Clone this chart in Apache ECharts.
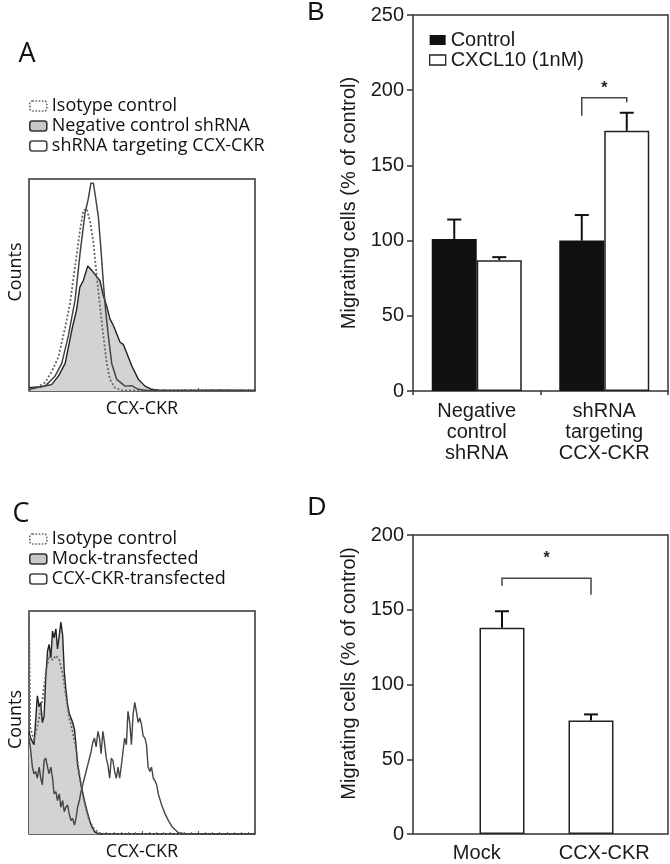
<!DOCTYPE html>
<html><head><meta charset="utf-8">
<script src="https://cdn.jsdelivr.net/npm/echarts@6/dist/echarts.min.js"></script>
<style>html,body{margin:0;padding:0;background:#fff}#c{width:670px;height:864px}</style>
</head><body><div id="c"></div>
<script>
// ---------- Panel A: flow histograms [channel (0-100 across plot), counts (% of max)] ----------
const histA_negative = [[0,1.5],[5,2],[10,3],[13,7],[16,13],[19,29],[21,38],[22.5,49],[24,52],[26,59],[27.7,57],[29.2,55],[31.4,52],[32.9,45],[34.4,40],[35.8,34],[37.3,31],[38.8,27],[40.3,23],[41.7,22],[43.2,18],[45.4,12],[48.4,5.5],[51.3,2.3],[54.3,0.8],[57.2,0.4],[70,0.3],[85,0.4],[100,0.3]];
const histA_isotype = [[0,0.5],[1.2,1],[4,2],[7.1,4],[10,9],[13,16],[16,30],[18.1,41],[20.4,59],[22.6,76],[24,85],[25.5,86],[27,80],[28.5,70],[29.9,55],[31.4,40],[32.9,26],[34.4,13],[35.8,5.5],[38,1.5],[41,0.3],[100,0.2]];
const histA_targeting = [[0,0.5],[1.2,1],[7.1,2.3],[11.5,7],[14.5,13],[17.4,26],[20.4,43],[22.6,65],[24.8,84],[26.3,91],[27.4,98],[28.5,98],[29.5,91],[30.7,82],[31.9,66],[32.9,51],[33.9,38],[35.1,26],[36.6,13],[38.8,5.5],[42.5,2.3],[45.4,2.5],[48.4,0.8],[51.3,0.3],[100,0.2]];

// ---------- Panel C: flow histograms ----------
const histC_mock = [[0,46],[0.7,43],[2.2,40],[3.7,62],[4.5,57],[5.2,59],[5.9,50],[6.7,53],[7.4,70],[8.2,82],[8.9,85],[9.7,79],[10.4,91],[11.1,88],[11.9,92],[12.6,83],[13.4,89],[14.1,95],[14.9,89],[15.6,73],[16.3,65],[17.1,58],[17.8,54],[18.6,52],[19.3,50],[20.1,47],[20.8,40],[21.5,31],[23,22],[24.5,15],[26,9],[27.5,4],[29,1],[30.5,0.3],[32,0],[100,0]];
const histC_isotype = [[0,100],[0.5,48],[2.2,42],[4.5,52],[5.9,60],[7.4,72],[8.9,80],[10.4,78],[11.9,80],[13.4,78],[14.9,72],[16.3,62],[17.8,52],[19.3,46],[20.8,38],[22.3,27],[23.8,18],[25.3,11],[26.7,6],[29,2],[31.2,0.5],[33.4,0],[100,0]];
const histC_ckr = [[0,43],[0.7,38],[1.5,30],[2.2,27],[3,28],[3.7,25],[4.5,30],[5.2,25],[5.9,22],[6.7,33],[7.4,34],[8.2,30],[8.9,27],[9.7,30],[10.4,25],[11.1,18],[11.9,19],[12.6,15],[13.4,18],[14.1,12],[14.9,15],[15.6,10],[16.3,12],[17.1,13],[17.8,9],[18.6,6],[19.3,7],[20.1,4],[20.8,7],[21.5,12],[22.3,15],[23,19],[23.8,22],[24.5,25],[26,31],[27.5,37],[28.2,41],[29,43],[29.7,39],[30.5,46],[31.2,43],[31.9,36],[32.7,46],[33.4,41],[34.2,34],[34.9,31],[35.7,25],[36.4,34],[37.1,33],[37.9,28],[38.6,25],[39.4,30],[40.1,25],[40.9,31],[41.6,37],[42.3,43],[43.1,40],[43.8,55],[44.6,50],[45.3,40],[46.1,54],[46.8,59],[47.5,55],[48.3,50],[49,52],[49.8,49],[50.5,44],[51.3,43],[52,40],[52.7,30],[53.5,28],[54.2,30],[55,25],[55.7,24],[56.5,22],[57.2,18],[58.7,13],[60.2,9],[61.7,6],[63.2,3.4],[64.6,2],[66.1,0.6],[69.1,0.1],[100,0]];

// ---------- Panel B: migration bars ----------
const bCategories = ['Negative\ncontrol\nshRNA', 'shRNA\ntargeting\nCCX-CKR'];
const bControl = [101, 100];
const bControlErr = [13, 17];
const bCxcl10 = [87, 173];
const bCxcl10Err = [2, 12];
const bBracket = [[1, 1, 183, 195, 192, 201]]; // catL, catR, left leg end, top, right leg end, star
const bYMax = 250, bYStep = 50;

// ---------- Panel D: migration bars ----------
const dCategories = ['Mock', 'CCX-CKR'];
const dValues = [138, 76];
const dErr = [11, 4];
const dBracket = [[0, 1, 166, 171, 160, 184]];
const dYMax = 200, dYStep = 50;

// ---------- styling ----------
const FA = '"Open Sans", "DejaVu Sans", sans-serif';
const FB = '"Liberation Sans", Arial, sans-serif';
const BORDER = '#333';
const BAR_W = 45;
const CAP = 7;

function errRender(offset) {
  return function (params, api) {
    const x = api.value(0), v = api.value(1), e = api.value(2);
    const b = api.coord([x, v]);
    const t = api.coord([x, v + e]);
    const cx = b[0] + offset;
    return { type: 'group', children: [
      { type: 'line', shape: { x1: cx, y1: b[1], x2: cx, y2: t[1] }, style: { stroke: '#111', lineWidth: 2 } },
      { type: 'line', shape: { x1: cx - CAP, y1: t[1], x2: cx + CAP, y2: t[1] }, style: { stroke: '#111', lineWidth: 2 } }
    ]};
  };
}
function bracketRender(offL, offR) {
  return function (params, api) {
    const cL = api.value(0), cR = api.value(1);
    const p1 = api.coord([cL, api.value(2)]);
    const p2 = api.coord([cL, api.value(3)]);
    const p3 = api.coord([cR, api.value(3)]);
    const p4 = api.coord([cR, api.value(4)]);
    const ps = api.coord([cL, api.value(5)]);
    const xl = p1[0] + offL, xr = p3[0] + offR;
    return { type: 'group', children: [
      { type: 'polyline', shape: { points: [[xl, p1[1]], [xl, p2[1]], [xr, p3[1]], [xr, p4[1]]] },
        style: { stroke: '#444', lineWidth: 1.5, fill: null } },
      { type: 'text', x: (xl + xr) / 2, y: ps[1],
        style: { text: '*', fill: '#222', font: 'bold 16px ' + FB, align: 'center', verticalAlign: 'middle', textAlign: 'center', textVerticalAlign: 'middle' } }
    ]};
  };
}

const histX = (gi, name) => ({
  type: 'value', gridIndex: gi, min: 0, max: 100, interval: 25,
  name: name, nameLocation: 'middle', nameGap: 9,
  nameTextStyle: { fontFamily: FA, fontSize: 18, color: '#111' },
  axisLine: { show: false }, axisLabel: { show: false }, splitLine: { show: false },
  axisTick: { show: true, inside: true, length: 3, lineStyle: { color: '#555' } },
  minorTick: { show: true, splitNumber: 8, length: 2, lineStyle: { color: '#777' } }
});
const histY = (gi, pad) => ({
  type: 'value', gridIndex: gi, min: 0, max: 100,
  name: 'Counts', nameLocation: 'middle', nameGap: 4,
  nameTextStyle: { fontFamily: FA, fontSize: 18, color: '#111', padding: [0, 0, 0, pad] },
  axisLine: { show: false }, axisLabel: { show: false }, axisTick: { show: false }, splitLine: { show: false }
});
const barY = (gi, max, step, pad) => ({
  type: 'value', gridIndex: gi, min: 0, max: max, interval: step,
  name: 'Migrating cells (% of control)', nameLocation: 'middle', nameGap: 54,
  nameTextStyle: { fontFamily: FB, fontSize: 20, color: '#1a1a1a', padding: [0, 0, 0, pad] },
  axisLine: { show: false }, splitLine: { show: false },
  axisTick: { show: true, length: 6, lineStyle: { color: BORDER, width: 1.5 } },
  axisLabel: { fontFamily: FB, fontSize: 20, color: '#1a1a1a', margin: 9 }
});
const legendText = { fontFamily: FA, fontSize: 18, color: '#111', lineHeight: 20 };

const chart = echarts.init(document.getElementById('c'), null, { renderer: 'canvas', width: 670, height: 864 });
chart.setOption({
  animation: false,
  backgroundColor: '#fff',
  grid: [
    { left: 29, top: 179, width: 226, height: 212, show: true, borderColor: BORDER, borderWidth: 1.5 },
    { left: 413, top: 15, width: 255, height: 376, show: true, borderColor: BORDER, borderWidth: 1.5 },
    { left: 29, top: 611, width: 226, height: 223, show: true, borderColor: BORDER, borderWidth: 1.5 },
    { left: 413, top: 535, width: 255, height: 299, show: true, borderColor: BORDER, borderWidth: 1.5 },
    { left: 457.5, top: 535, width: 178, height: 299 }
  ],
  xAxis: [
    histX(0, 'CCX-CKR'),
    { type: 'category', gridIndex: 1, data: bCategories,
      axisLine: { show: false }, splitLine: { show: false },
      axisTick: { show: true, length: 4, lineStyle: { color: BORDER, width: 1.5 } },
      axisLabel: { fontFamily: FB, fontSize: 20, lineHeight: 21, color: '#1a1a1a', margin: 10 } },
    histX(2, 'CCX-CKR'),
    { type: 'category', gridIndex: 3, data: dCategories,
      axisLine: { show: false }, splitLine: { show: false }, axisTick: { show: false },
      axisLabel: { fontFamily: FB, fontSize: 20, lineHeight: 21, color: '#1a1a1a', margin: 9 } },
    { type: 'category', gridIndex: 4, data: dCategories, show: false }
  ],
  yAxis: [
    histY(0, 26),
    barY(1, bYMax, bYStep, 0),
    histY(2, 6),
    barY(3, dYMax, dYStep, 22),
    { type: 'value', gridIndex: 4, min: 0, max: dYMax, show: false }
  ],
  legend: [
    { orient: 'vertical', left: 29, top: 96, padding: 0, itemWidth: 17, itemHeight: 10, itemGap: 0, selectedMode: false,
      textStyle: legendText,
      data: [
        { name: 'Isotype control', icon: 'roundRect', itemStyle: { color: '#fff', borderColor: '#666', borderWidth: 1.6, borderType: 'dotted' } },
        { name: 'Negative control shRNA', icon: 'roundRect', itemStyle: { color: '#c8c8c8', borderColor: '#333', borderWidth: 1.6 } },
        { name: 'shRNA targeting CCX-CKR', icon: 'roundRect', itemStyle: { color: '#fff', borderColor: '#444', borderWidth: 1.6 } }
      ] },
    { orient: 'vertical', left: 29, top: 529, padding: 0, itemWidth: 17, itemHeight: 10, itemGap: 0, selectedMode: false,
      textStyle: legendText,
      data: [
        { name: 'Isotype control', icon: 'roundRect', itemStyle: { color: '#fff', borderColor: '#666', borderWidth: 1.6, borderType: 'dotted' } },
        { name: 'Mock-transfected', icon: 'roundRect', itemStyle: { color: '#c8c8c8', borderColor: '#333', borderWidth: 1.6 } },
        { name: 'CCX-CKR-transfected', icon: 'roundRect', itemStyle: { color: '#fff', borderColor: '#444', borderWidth: 1.6 } }
      ] },
    { orient: 'vertical', left: 429, top: 30, padding: 0, itemWidth: 16, itemHeight: 10, itemGap: 0, selectedMode: false,
      textStyle: { fontFamily: FB, fontSize: 20, color: '#1a1a1a', lineHeight: 17 },
      data: [
        { name: 'Control', icon: 'rect', itemStyle: { color: '#111' } },
        { name: 'CXCL10 (1nM)', icon: 'rect', itemStyle: { color: '#fff', borderColor: '#222', borderWidth: 1.3 } }
      ] }
  ],
  graphic: [
    { type: 'text', x: 27, y: 54, style: { text: 'A', font: '27px ' + FA, fill: '#111', align: 'center', verticalAlign: 'middle', textAlign: 'center', textVerticalAlign: 'middle' } },
    { type: 'text', x: 316, y: 13, style: { text: 'B', font: '26px ' + FB, fill: '#111', align: 'center', verticalAlign: 'middle', textAlign: 'center', textVerticalAlign: 'middle' } },
    { type: 'text', x: 21, y: 514, style: { text: 'C', font: '27px ' + FA, fill: '#111', align: 'center', verticalAlign: 'middle', textAlign: 'center', textVerticalAlign: 'middle' } },
    { type: 'text', x: 317, y: 508, style: { text: 'D', font: '26px ' + FB, fill: '#111', align: 'center', verticalAlign: 'middle', textAlign: 'center', textVerticalAlign: 'middle' } }
  ],
  series: [
    // Panel A
    { type: 'line', name: 'Negative control shRNA', xAxisIndex: 0, yAxisIndex: 0, data: histA_negative,
      symbol: 'none', lineStyle: { color: '#222', width: 1.4 }, itemStyle: { color: '#d3d3d3' },
      areaStyle: { color: '#d3d3d3', opacity: 1 }, z: 2 },
    { type: 'line', name: 'Isotype control', xAxisIndex: 0, yAxisIndex: 0, data: histA_isotype,
      symbol: 'none', lineStyle: { color: '#666', width: 1.8, type: [2, 2] }, itemStyle: { color: '#666' }, z: 3 },
    { type: 'line', name: 'shRNA targeting CCX-CKR', xAxisIndex: 0, yAxisIndex: 0, data: histA_targeting,
      symbol: 'none', lineStyle: { color: '#444', width: 1.5 }, itemStyle: { color: '#444' }, z: 4 },
    // Panel C
    { type: 'line', name: 'Mock-transfected', xAxisIndex: 2, yAxisIndex: 2, data: histC_mock,
      symbol: 'none', lineStyle: { color: '#222', width: 1.4 }, itemStyle: { color: '#d3d3d3' },
      areaStyle: { color: '#d3d3d3', opacity: 1 }, z: 2 },
    { type: 'line', name: 'Isotype control', xAxisIndex: 2, yAxisIndex: 2, data: histC_isotype,
      symbol: 'none', lineStyle: { color: '#666', width: 1.8, type: [2, 2] }, itemStyle: { color: '#666' }, z: 3 },
    { type: 'line', name: 'CCX-CKR-transfected', xAxisIndex: 2, yAxisIndex: 2, data: histC_ckr,
      symbol: 'none', lineStyle: { color: '#444', width: 1.4 }, itemStyle: { color: '#444' }, z: 4 },
    // Panel B
    { type: 'bar', name: 'Control', xAxisIndex: 1, yAxisIndex: 1, data: bControl, barWidth: BAR_W, barGap: '0%',
      itemStyle: { color: '#111' } },
    { type: 'bar', name: 'CXCL10 (1nM)', xAxisIndex: 1, yAxisIndex: 1, data: bCxcl10, barWidth: BAR_W, barGap: '0%',
      itemStyle: { color: '#fff', borderColor: '#222', borderWidth: 1.5 } },
    { type: 'custom', xAxisIndex: 1, yAxisIndex: 1, renderItem: errRender(-BAR_W / 2), z: 5,
      encode: { x: 0, y: 1 }, data: bControl.map((v, i) => [i, v, bControlErr[i]]) },
    { type: 'custom', xAxisIndex: 1, yAxisIndex: 1, renderItem: errRender(BAR_W / 2), z: 5,
      encode: { x: 0, y: 1 }, data: bCxcl10.map((v, i) => [i, v, bCxcl10Err[i]]) },
    { type: 'custom', xAxisIndex: 1, yAxisIndex: 1, renderItem: bracketRender(-BAR_W / 2, BAR_W / 2), z: 5,
      encode: { x: 0, y: 3 }, data: bBracket },
    // Panel D
    { type: 'bar', name: 'D', xAxisIndex: 4, yAxisIndex: 4, data: dValues, barWidth: BAR_W,
      itemStyle: { color: '#fff', borderColor: '#222', borderWidth: 1.5 } },
    { type: 'custom', xAxisIndex: 4, yAxisIndex: 4, renderItem: errRender(0), z: 5,
      encode: { x: 0, y: 1 }, data: dValues.map((v, i) => [i, v, dErr[i]]) },
    { type: 'custom', xAxisIndex: 4, yAxisIndex: 4, renderItem: bracketRender(0, 0), z: 5,
      encode: { x: 0, y: 3 }, data: dBracket }
  ]
});
</script>
</body></html>
